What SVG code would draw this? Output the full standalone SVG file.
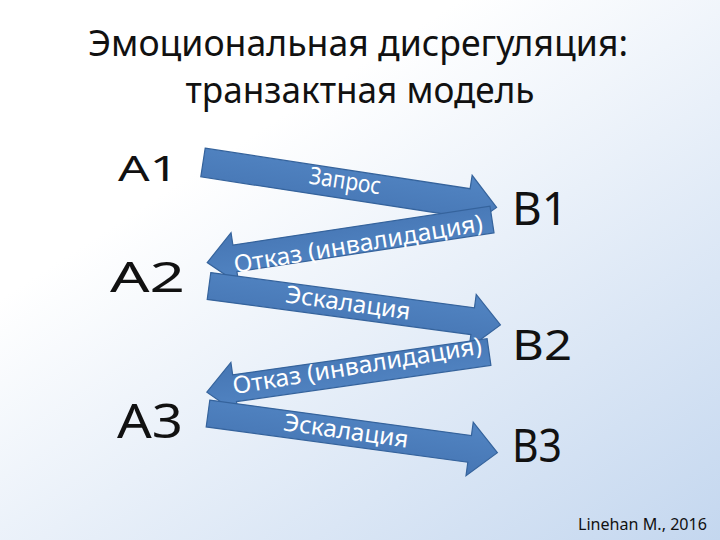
<svg xmlns="http://www.w3.org/2000/svg" width="720" height="540" viewBox="0 0 720 540">
  <defs>
    <linearGradient id="bg" x1="0.35" y1="0.25" x2="1" y2="1">
      <stop offset="0" stop-color="#ffffff"/>
      <stop offset="1" stop-color="#c4d7ef"/>
    </linearGradient>
    <linearGradient id="arrowFill" x1="0" y1="0" x2="0" y2="1">
      <stop offset="0" stop-color="#5285c3"/>
      <stop offset="1" stop-color="#4676b4"/>
    </linearGradient>
    <style>
      .t { font-family: "Noto Sans", "Open Sans", "DejaVu Sans", sans-serif; fill: #111111; }
      .node { font-family: "Noto Sans", "Open Sans", "DejaVu Sans", sans-serif; fill: #111111; }
      .arrow { fill: url(#arrowFill); stroke: #35639c; stroke-width: 1.2; stroke-linejoin: miter; }
      .lbl { font-family: "Noto Sans", "Open Sans", "DejaVu Sans", sans-serif; fill: #ffffff; font-size: 24px; }
    </style>
  </defs>
  <rect x="0" y="0" width="720" height="540" fill="url(#bg)"/>

  <g id="title">
    <text class="t" x="358" y="56" font-size="36" text-anchor="middle" textLength="540" lengthAdjust="spacingAndGlyphs">Эмоциональная дисрегуляция:</text>
    <text class="t" x="360" y="103" font-size="36" text-anchor="middle" textLength="349" lengthAdjust="spacingAndGlyphs">транзактная модель</text>
  </g>

  <g id="connectors">
    <g id="arrow-request">
      <path class="arrow" transform="translate(203,162.5) rotate(8.7)" d="M0,-14.5 L268,-14.5 L268,-28 L297,0 L268,28 L268,14.5 L0,14.5 Z"/>
      <text class="lbl" transform="translate(345,182) rotate(8.7)" x="0" y="7" font-size="23" text-anchor="middle" textLength="72" lengthAdjust="spacingAndGlyphs">Запрос</text>
    </g>
    <g id="arrow-refusal-1">
      <path class="arrow" transform="translate(492,219.5) rotate(171.4)" d="M0,-13.5 L260,-13.5 L260,-26 L288,0 L260,26 L260,13.5 L0,13.5 Z"/>
      <text class="lbl" transform="translate(358,243) rotate(-9.6)" x="0" y="9" font-size="25" text-anchor="middle" textLength="252" lengthAdjust="spacingAndGlyphs">Отказ (инвалидация)</text>
    </g>
    <g id="arrow-escalation-1">
      <path class="arrow" transform="translate(209,286) rotate(7.6)" d="M0,-13.5 L266,-13.5 L266,-27 L294,0 L266,27 L266,13.5 L0,13.5 Z"/>
      <text class="lbl" transform="translate(348,303) rotate(8)" x="0" y="8" font-size="25" text-anchor="middle" textLength="126" lengthAdjust="spacingAndGlyphs">Эскалация</text>
    </g>
    <g id="arrow-refusal-2">
      <path class="arrow" transform="translate(489,352) rotate(171.9)" d="M0,-13.5 L257,-13.5 L257,-26 L285,0 L257,26 L257,13.5 L0,13.5 Z"/>
      <text class="lbl" transform="translate(357,365) rotate(-9.3)" x="0" y="9" font-size="25" text-anchor="middle" textLength="252" lengthAdjust="spacingAndGlyphs">Отказ (инвалидация)</text>
    </g>
    <g id="arrow-escalation-2">
      <path class="arrow" transform="translate(208,413.5) rotate(7.7)" d="M0,-13.5 L264,-13.5 L264,-27 L292,0 L264,27 L264,13.5 L0,13.5 Z"/>
      <text class="lbl" transform="translate(346,431) rotate(8)" x="0" y="8" font-size="25" text-anchor="middle" textLength="126" lengthAdjust="spacingAndGlyphs">Эскалация</text>
    </g>
  </g>

  <g id="A1"><text class="node" x="118" y="181" font-size="34" textLength="60" lengthAdjust="spacingAndGlyphs">A1</text></g>
  <g id="A2"><text class="node" x="110" y="292" font-size="42" textLength="75" lengthAdjust="spacingAndGlyphs">A2</text></g>
  <g id="A3"><text class="node" x="117" y="438" font-size="48" textLength="66" lengthAdjust="spacingAndGlyphs">A3</text></g>
  <g id="B1"><text class="node" x="512" y="225" font-size="45" textLength="56" lengthAdjust="spacingAndGlyphs">B1</text></g>
  <g id="B2"><text class="node" x="512" y="360" font-size="42" textLength="60" lengthAdjust="spacingAndGlyphs">B2</text></g>
  <g id="B3"><text class="node" x="512" y="462" font-size="45" textLength="50" lengthAdjust="spacingAndGlyphs">B3</text></g>

  <g id="citation">
    <text class="t" x="707" y="530" font-size="16" text-anchor="end" textLength="129" lengthAdjust="spacingAndGlyphs">Linehan M., 2016</text>
  </g>
</svg>
